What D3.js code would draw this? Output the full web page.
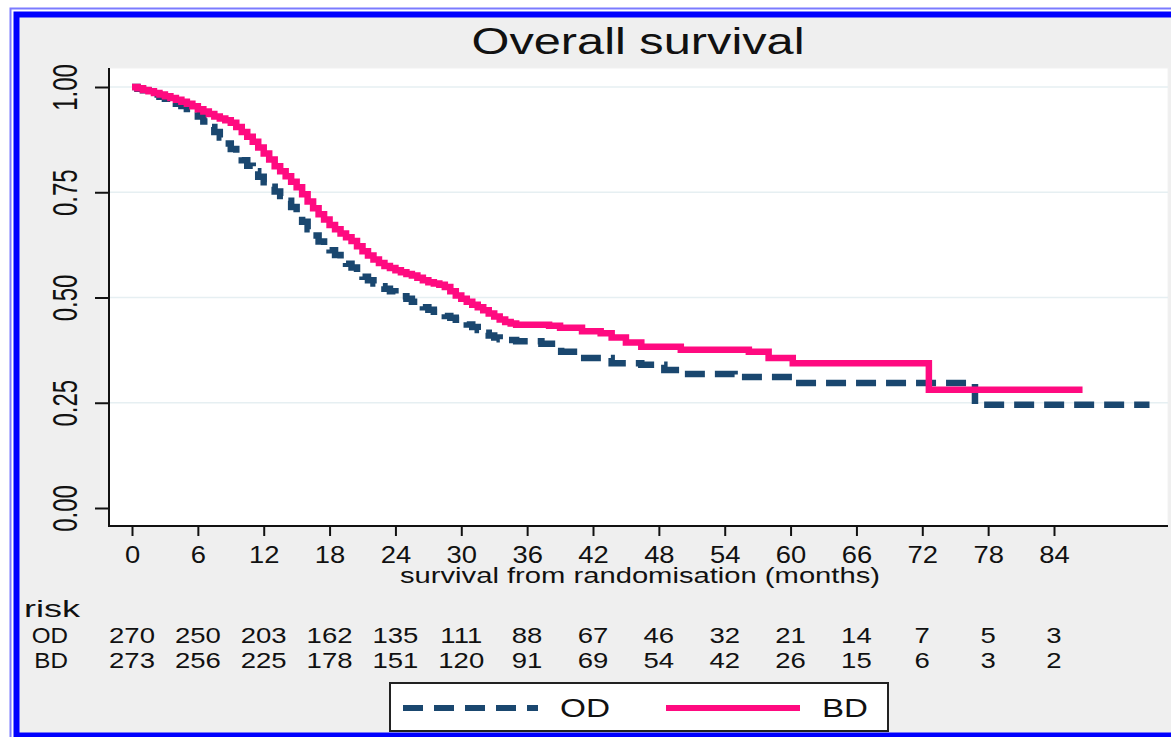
<!DOCTYPE html>
<meta charset="utf-8">
<head>
<script src="https://cdn.jsdelivr.net/npm/d3@7"></script>
<style>
  body { margin: 0; background: white; }
  text { font-family: "Liberation Sans", Arial, sans-serif; fill: #111; }
</style>
</head>
<body>
<div id="chart"></div>
<script>
// Kaplan-Meier estimates (months, survival)
var odTime = [0,0.5,1,1.5,2,2.5,3,3.5,4,4.5,5,5.5,6,6.5,7,7.5,8,8.5,9,9.5,10,10.5,11,11.5,12,12.5,13,13.5,14,14.5,15,15.5,16,16.5,17,17.5,18,18.5,19,19.5,20,20.5,21,21.5,22,22.5,23,23.5,24,24.5,25,25.5,26,26.5,27,27.5,28,28.5,29,29.5,30,30.5,31,31.5,32,32.5,33,33.5,34,35,37.3,39.1,41.2,43.7,46.4,48.5,50.3,54.9,60.4,76.8,92.7];
var odSurv = [1.0,0.996,0.992,0.987,0.982,0.977,0.972,0.966,0.96,0.955,0.948,0.94,0.93,0.918,0.905,0.893,0.88,0.866,0.853,0.84,0.826,0.813,0.8,0.787,0.774,0.763,0.752,0.741,0.73,0.715,0.698,0.68,0.662,0.647,0.633,0.622,0.612,0.601,0.59,0.58,0.571,0.56,0.549,0.541,0.533,0.527,0.521,0.515,0.509,0.503,0.497,0.49,0.483,0.477,0.471,0.466,0.461,0.456,0.452,0.447,0.442,0.436,0.43,0.423,0.416,0.41,0.405,0.401,0.399,0.396,0.39,0.371,0.356,0.344,0.34,0.328,0.318,0.311,0.297,0.245,0.245];
var bdTime = [0,0.5,1,1.5,2,2.5,3,3.5,4,4.5,5,5.5,6,6.5,7,7.5,8,8.5,9,9.5,10,10.5,11,11.5,12,12.5,13,13.5,14,14.5,15,15.5,16,16.5,17,17.5,18,18.5,19,19.5,20,20.5,21,21.5,22,22.5,23,23.5,24,24.5,25,25.5,26,26.5,27,27.5,28,28.5,29,29.5,30,30.5,31,31.5,32,32.5,33,33.5,34,34.5,35,38,39,41,42.7,43.7,45,46.4,50,56.2,58,60.2,72.6,86.6];
var bdSurv = [1.0,0.997,0.993,0.99,0.986,0.982,0.978,0.974,0.97,0.965,0.96,0.954,0.947,0.942,0.936,0.93,0.925,0.921,0.915,0.905,0.893,0.882,0.87,0.856,0.842,0.828,0.812,0.8,0.788,0.775,0.762,0.745,0.728,0.712,0.698,0.685,0.672,0.662,0.652,0.643,0.634,0.622,0.61,0.6,0.59,0.582,0.575,0.57,0.565,0.56,0.556,0.552,0.547,0.541,0.536,0.533,0.53,0.525,0.515,0.505,0.497,0.49,0.483,0.477,0.47,0.462,0.455,0.448,0.442,0.438,0.435,0.433,0.428,0.42,0.415,0.405,0.393,0.383,0.376,0.371,0.356,0.344,0.281,0.281];

// number at risk table
var riskTimes = [0,6,12,18,24,30,36,42,48,54,60,66,72,78,84];
var odAtRisk = [270,250,203,162,135,111,88,67,46,32,21,14,7,5,3];
var bdAtRisk = [273,256,225,178,151,120,91,69,54,42,26,15,6,3,2];

var yTicks = [0, 0.25, 0.5, 0.75, 1];

var W = 1171, H = 737;
var plot = {left: 109, right: 1168, top: 68, bottom: 526};
var navy = "#1a476f", pink = "#ff0a80";

var svg = d3.select("#chart").append("svg")
  .attr("width", W)
  .attr("height", H);

// stretch a text to a width (the original fonts are wide)
function stretch(sel, f) {
  sel.each(function() {
    var len = this.getComputedTextLength();
    d3.select(this).attr("textLength", len * f).attr("lengthAdjust", "spacingAndGlyphs");
  });
}
function fitTo(sel, w) {
  sel.attr("textLength", w).attr("lengthAdjust", "spacingAndGlyphs");
}

// frame
svg.append("rect").attr("x", 19).attr("y", 17).attr("width", 1200).attr("height", 716).attr("fill", "#efefef");
svg.append("rect").attr("x", 10.5).attr("y", 8.5).attr("width", 1200).attr("height", 740)
  .attr("fill", "none").attr("stroke", "#7b7bff").attr("stroke-width", 2);
svg.append("rect").attr("x", 16.5).attr("y", 14.5).attr("width", 1200).attr("height", 721)
  .attr("fill", "none").attr("stroke", "#0000ff").attr("stroke-width", 6);

svg.append("rect")
  .attr("x", plot.left).attr("y", plot.top)
  .attr("width", plot.right - plot.left).attr("height", plot.bottom - plot.top)
  .attr("fill", "white").attr("stroke", "#f2f2f2");

var x = d3.scaleLinear().domain([0, 84]).range([132, 1054]);
var y = d3.scaleLinear().domain([0, 1]).range([508, 87]);

// gridlines
svg.append("g").selectAll("line").data(yTicks.filter(function(d) { return d > 0; })).enter()
  .append("line")
  .attr("x1", plot.left).attr("x2", plot.right)
  .attr("y1", function(d) { return y(d); }).attr("y2", function(d) { return y(d); })
  .attr("stroke", "#e6eff2").attr("stroke-width", 1.5);

// curves
var line = d3.line()
  .x(function(d) { return x(d[0]); })
  .y(function(d) { return y(d[1]); })
  .curve(d3.curveStepAfter);

svg.append("path")
  .datum(d3.zip(odTime, odSurv))
  .attr("d", line)
  .attr("fill", "none").attr("stroke", navy).attr("stroke-width", 6.5)
  .attr("stroke-dasharray", "20,10");

svg.append("path")
  .datum(d3.zip(bdTime, bdSurv))
  .attr("d", line)
  .attr("fill", "none").attr("stroke", pink).attr("stroke-width", 6.5);

// axes
var yAxis = svg.append("g")
  .attr("transform", "translate(" + plot.left + ",0)")
  .call(d3.axisLeft(y).tickValues(yTicks).tickSize(14).tickFormat(d3.format(".2f")));
yAxis.select(".domain").remove();
yAxis.selectAll(".tick line").attr("stroke", "#111").attr("stroke-width", 2);
yAxis.selectAll(".tick text")
  .attr("x", null).attr("dy", null)
  .attr("transform", "translate(-32,0) rotate(-90) scale(1,1.5)")
  .attr("text-anchor", "middle")
  .style("font-size", "24px");
yAxis.append("line")
  .attr("x1", 0).attr("x2", 0).attr("y1", plot.top).attr("y2", plot.bottom + 1)
  .attr("stroke", "#111").attr("stroke-width", 2);

var xAxis = svg.append("g")
  .attr("transform", "translate(0," + plot.bottom + ")")
  .call(d3.axisBottom(x).tickValues(riskTimes).tickSize(10).tickPadding(0));
xAxis.select(".domain").remove();
xAxis.selectAll(".tick line").attr("stroke", "#111").attr("stroke-width", 2);
xAxis.selectAll(".tick text")
  .attr("y", 37).attr("dy", null)
  .style("font-size", "24px")
  .call(stretch, 1.14);
xAxis.append("line")
  .attr("x1", plot.left - 1).attr("x2", plot.right).attr("y1", 0).attr("y2", 0)
  .attr("stroke", "#111").attr("stroke-width", 2);

// titles
svg.append("text")
  .attr("x", 638).attr("y", 54)
  .attr("text-anchor", "middle")
  .style("font-size", "36px")
  .text("Overall survival")
  .call(fitTo, 333);

svg.append("text")
  .attr("x", 640).attr("y", 583)
  .attr("text-anchor", "middle")
  .style("font-size", "22px")
  .text("survival from randomisation (months)")
  .call(fitTo, 480);

// risk table
svg.append("text")
  .attr("x", 24).attr("y", 617)
  .style("font-size", "24px")
  .text("risk")
  .call(fitTo, 56);

var rows = [{name: "OD", vals: odAtRisk, y: 643}, {name: "BD", vals: bdAtRisk, y: 668}];
rows.forEach(function(r) {
  svg.append("text")
    .attr("x", 68).attr("y", r.y)
    .attr("text-anchor", "end")
    .style("font-size", "22px")
    .text(r.name)
    .call(stretch, 1.1);
  svg.append("g").selectAll("text").data(r.vals).enter()
    .append("text")
    .attr("x", function(d, i) { return x(riskTimes[i]); })
    .attr("y", r.y)
    .attr("text-anchor", "middle")
    .style("font-size", "22px")
    .text(function(d) { return d; })
    .call(stretch, 1.25);
});

// legend
var lg = svg.append("g");
lg.append("rect")
  .attr("x", 390).attr("y", 683).attr("width", 498).attr("height", 48)
  .attr("fill", "white").attr("stroke", "#222").attr("stroke-width", 2);
lg.append("line")
  .attr("x1", 403).attr("x2", 538).attr("y1", 708).attr("y2", 708)
  .attr("stroke", navy).attr("stroke-width", 6).attr("stroke-dasharray", "20,11");
lg.append("text")
  .attr("x", 560).attr("y", 717)
  .style("font-size", "26px")
  .text("OD")
  .call(fitTo, 50);
lg.append("line")
  .attr("x1", 666).attr("x2", 800).attr("y1", 708).attr("y2", 708)
  .attr("stroke", pink).attr("stroke-width", 6);
lg.append("text")
  .attr("x", 822).attr("y", 717)
  .style("font-size", "26px")
  .text("BD")
  .call(fitTo, 46);
</script>
</body>
